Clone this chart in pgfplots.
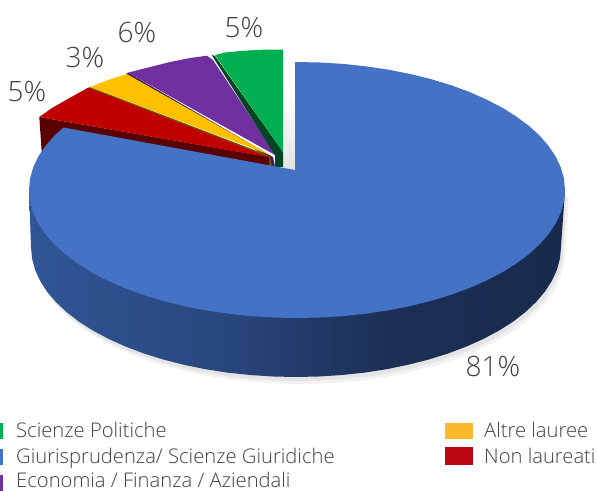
\documentclass[border=0pt]{standalone}
\usepackage{pgfplots}
\pgfplotsset{compat=1.18}
\usepackage{pgfplotstable}
\usepackage{fontspec}
\setmainfont{Open Sans Light}
\definecolor{bluetop}{HTML}{4472C4}
\definecolor{lab}{HTML}{404040}
\definecolor{sa}{HTML}{305696}
\definecolor{sb}{HTML}{28447A}
\definecolor{sc}{HTML}{1C2F56}
\definecolor{sd}{HTML}{182A4C}
\pgfdeclarehorizontalshading{sideshade}{100bp}{color(0bp)=(sa);
 color(25bp)=(sa);
 color(45bp)=(sb);
 color(58bp)=(sc);
 color(75bp)=(sd);
 color(100bp)=(sd)}
\pgfplotstableread{
x y
31 247
32 258.3
35 269.6
40 280.6
47 291.5
55.8 301.9
66.5 312
78.9 321.6
93 330.6
108.6 338.9
125.7 346.6
144 353.5
163.5 359.6
184 364.8
205.4 369.2
227.4 372.6
250 375
272.9 376.5
296 377
319.1 376.5
342 375
364.6 372.6
386.6 369.2
408 364.8
428.5 359.6
448 353.5
466.3 346.6
483.4 338.9
499 330.6
513.1 321.6
525.5 312
536.2 301.9
545 291.5
552 280.6
557 269.6
560 258.3
561 247
565 190
29 190
}\sidetable
\pgfplotstableread{
x y
295 170
295 62
320.4 62.5
343.5 63.9
366.4 66.4
388.7 69.7
410.3 74
431 79.1
450.7 85.1
469.3 91.9
486.5 99.5
502.3 107.7
516.5 116.6
529.1 126
539.9 135.9
548.8 146.2
555.9 156.9
560.9 167.8
564 178.8
565 190
564 201.2
560.9 212.2
555.9 223.1
548.8 233.8
539.9 244.1
529.1 254
516.5 263.4
502.3 272.3
486.5 280.5
469.3 288.1
450.7 294.9
431 300.9
410.3 306
388.7 310.3
366.4 313.6
343.5 316.1
320.4 317.5
297 318
273.6 317.5
250.5 316.1
227.6 313.6
205.3 310.3
183.7 306
163 300.9
143.3 294.9
124.7 288.1
107.5 280.5
91.7 272.3
77.5 263.4
64.9 254
54.1 244.1
45.2 233.8
38.1 223.1
33.1 212.2
30 201.2
29 190
30 178.8
33.1 167.8
38.1 156.9
45.2 146.2
54.1 135.9
63.5 127.5
}\toptable
\begin{document}
\begin{tikzpicture}
\useasboundingbox (0,0) rectangle (597pt,491pt);
\begin{axis}[at={(0,0)},anchor=south west,scale only axis,width=597pt,height=491pt,
 xmin=0,xmax=597,ymin=0,ymax=491,y dir=reverse,hide axis,clip=true]
% shadows
\addplot[fill=black,draw=none,opacity=0.06,xshift=2pt,yshift=-4pt] table {\sidetable} -- cycle;
\addplot[fill=black,draw=none,opacity=0.05,xshift=4pt,yshift=-7pt] table {\sidetable} -- cycle;
\addplot[draw=none,top color=white,bottom color=black!11] coordinates {(283,90) (295,90) (295,170) (283,170)} -- cycle;
% dark sides of the exploded slices
\addplot[fill={rgb,255:red,58;green,27;blue,92},draw=none] coordinates {(128,72.7) (273,157) (275,167) (270,167) (268,157) (126,74)} -- cycle;
\addplot[fill={rgb,255:red,110;green,85;blue,0},draw=none] coordinates {(90,87) (270,156) (272,167) (268,167) (268,159) (88,88)} -- cycle;
\addplot[fill={rgb,255:red,90;green,0;blue,0},draw=none] coordinates {(39.3,117) (41.7,152) (100,170) (269,168) (269,157)} -- cycle;
% faces
\addplot[fill={rgb,255:red,112;green,48;blue,160},draw=none] coordinates {(207,55.7) (190,58) (170,62) (150,67) (128,72.7) (275,155) (276,155) (213,60)} -- cycle;
\addplot[fill={rgb,255:red,0;green,70;blue,35},draw=none] coordinates {(211.7,55) (275,155) (275,167) (283,167) (283,152) (215,56)} -- cycle;
\addplot[fill={rgb,255:red,0;green,176;blue,80},draw=none] coordinates {(215,55) (225,52.5) (240,51) (255,50) (270,49.5) (283,49.5) (283,152)} -- cycle;
\addplot[fill={rgb,255:red,255;green,192;blue,0},draw=none] coordinates {(126.7,74) (108,80) (90,87) (270,155)} -- cycle;
\addplot[fill={rgb,255:red,192;green,0;blue,0},draw=none] coordinates {(88,87.7) (66,100) (52,108) (39.3,117) (268,157)} -- cycle;
% pie body
\addplot[draw=none,shading=sideshade,shading angle=0] table {\sidetable} -- cycle;
\addplot[fill=bluetop,draw=none] table {\toptable} -- cycle;
% legend swatches
\addplot[fill={rgb,255:red,0;green,176;blue,80},draw=none] coordinates {(0,423) (3,423) (3,439) (0,439)} -- cycle;
\addplot[fill=bluetop,draw=none] coordinates {(0,449) (3,449) (3,465) (0,465)} -- cycle;
\addplot[fill={rgb,255:red,112;green,48;blue,160},draw=none] coordinates {(0,475) (3,475) (3,491) (0,491)} -- cycle;
\addplot[fill={rgb,255:red,250;green,185;blue,40},draw=none] coordinates {(445,423) (473,423) (473,439) (445,439)} -- cycle;
\addplot[fill={rgb,255:red,190;green,5;blue,20},draw=none] coordinates {(445,447) (473,447) (473,465) (445,465)} -- cycle;
% labels
\tikzset{pct/.style={font=\fontsize{28pt}{30pt}\selectfont,text=lab,inner sep=0pt},
 lg/.style={font=\fontsize{20.2pt}{22pt}\selectfont,text=lab,inner sep=0pt,anchor=base west}}
\node[pct] at (axis cs:244,28) {5\%};
\node[pct] at (axis cs:137,33) {6\%};
\node[pct] at (axis cs:85,58) {3\%};
\node[pct] at (axis cs:27,92) {5\%};
\node[pct] at (axis cs:493,366) {81\%};
\node[lg] at (axis cs:16,437) {Scienze Politiche};
\node[lg] at (axis cs:16,463) {Giurisprudenza/ Scienze Giuridiche};
\node[lg] at (axis cs:16,487) {Economia / Finanza / Aziendali};
\node[lg] at (axis cs:484,437) {Altre lauree};
\node[lg] at (axis cs:484,463) {Non laureati};
\end{axis}
\end{tikzpicture}
\end{document}
